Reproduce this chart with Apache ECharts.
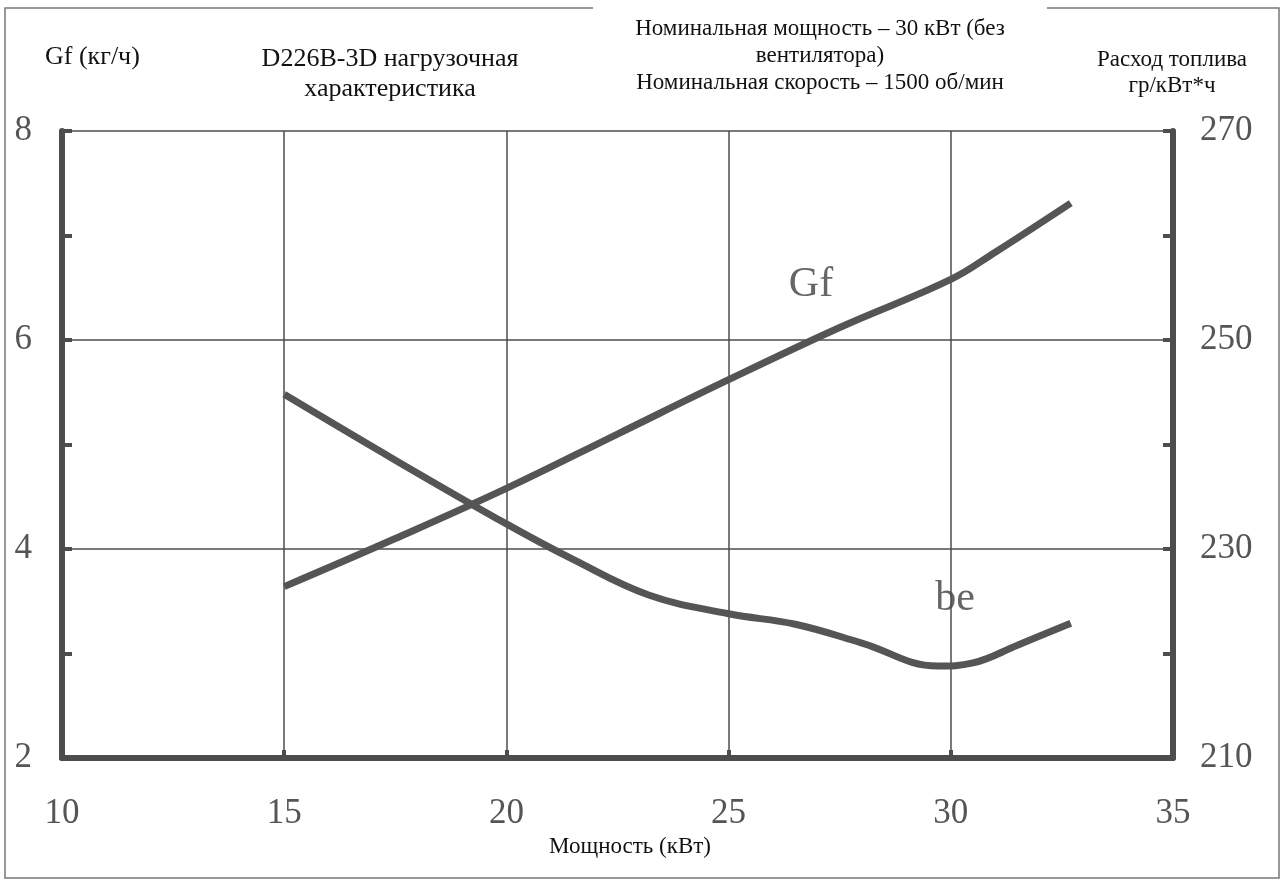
<!DOCTYPE html>
<html>
<head>
<meta charset="utf-8">
<script src="https://cdn.jsdelivr.net/npm/echarts@6/dist/echarts.min.js"></script>
<style>
html, body { margin: 0; padding: 0; background: #fff; }
#chart { width: 1287px; height: 883px; }
</style>
</head>
<body>
<div id="chart"></div>
<script>
// мощность (кВт) и значения кривых
var gfPower = [15, 17.5, 20, 22.5, 25, 27.5, 30, 31, 32.7];
var gfValues = [3.64, 4.1, 4.58, 5.1, 5.62, 6.12, 6.58, 6.84, 7.31];
var bePower = [15, 17.5, 20, 21.5, 23.2, 25, 26.5, 28, 29.7, 30.5, 31.5, 32.7];
var beValues = [244.8, 238.5, 232.4, 229, 225.6, 223.8, 222.8, 221, 218.8, 219.1, 220.8, 222.9];

var xTicks = [10, 15, 20, 25, 30, 35];
var leftTicks = [2, 4, 6, 8];
var rightTicks = [210, 230, 250, 270];

var ink = '#4d4d4d';
var serif = '"Liberation Serif", "DejaVu Serif", serif';

function pairs(xs, ys) {
	var out = [];
	for (var i = 0; i < xs.length; i++) {
		out.push([xs[i], ys[i]]);
	}
	return out;
}

var chart = echarts.init(document.getElementById('chart'));

var option = {
	backgroundColor : '#fff',
	animation : false,
	grid : {
		left : 62,
		right : 114,
		top : 131,
		bottom : 125
	},
	xAxis : {
		type : 'value',
		min : xTicks[0],
		max : xTicks[xTicks.length - 1],
		interval : 5,
		axisLine : { lineStyle : { color : ink, width : 6 } },
		axisTick : { inside : true, length : 8, lineStyle : { color : ink, width : 4 } },
		axisLabel : { margin : 38, fontSize : 35, fontFamily : serif, color : '#555' },
		splitLine : { show : true, lineStyle : { color : ink, width : 1.5 } }
	},
	yAxis : [ {
		type : 'value',
		position : 'left',
		min : leftTicks[0],
		max : leftTicks[leftTicks.length - 1],
		interval : 2,
		axisLine : { show : true, lineStyle : { color : ink, width : 6 } },
		axisTick : { show : true, inside : true, length : 10, lineStyle : { color : ink, width : 4 } },
		minorTick : { show : true, splitNumber : 2, length : 10, lineStyle : { color : ink, width : 4 } },
		axisLabel : { margin : 30, fontSize : 35, fontFamily : serif, color : '#555' },
		splitLine : { show : true, lineStyle : { color : ink, width : 1.5 } }
	}, {
		type : 'value',
		position : 'right',
		min : rightTicks[0],
		max : rightTicks[rightTicks.length - 1],
		interval : 20,
		axisLine : { show : true, lineStyle : { color : ink, width : 6 } },
		axisTick : { show : true, inside : true, length : 10, lineStyle : { color : ink, width : 4 } },
		minorTick : { show : true, splitNumber : 2, length : 10, lineStyle : { color : ink, width : 4 } },
		axisLabel : { margin : 27, fontSize : 35, fontFamily : serif, color : '#555' },
		splitLine : { show : false }
	} ],
	series : [ {
		name : 'Gf',
		type : 'line',
		yAxisIndex : 0,
		data : pairs(gfPower, gfValues),
		smooth : 0.4,
		showSymbol : false,
		lineStyle : { color : '#555', width : 7, cap : 'butt' }
	}, {
		name : 'be',
		type : 'line',
		yAxisIndex : 1,
		data : pairs(bePower, beValues),
		smooth : 0.4,
		showSymbol : false,
		lineStyle : { color : '#555', width : 7, cap : 'butt' }
	} ],
	graphic : [
		// рамка
		{ type : 'polyline', shape : { points : [ [593, 8], [5, 8], [5, 878], [1279, 878], [1279, 8], [1047, 8] ] },
			style : { stroke : '#777', lineWidth : 1.5, fill : null } },
		{ type : 'text', x : 45, y : 44, style : { text : 'Gf (кг/ч)', font : '26px ' + serif, fill : '#111' } },
		{ type : 'text', x : 390, y : 44, style : { text : 'D226B-3D нагрузочная\nхарактеристика', font : '26px ' + serif, fill : '#111', align : 'center', lineHeight : 30 } },
		{ type : 'text', x : 820, y : 15, style : { text : 'Номинальная мощность – 30 кВт (без\nвентилятора)\nНоминальная скорость – 1500 об/мин', font : '23px ' + serif, fill : '#111', align : 'center', lineHeight : 27 } },
		{ type : 'text', x : 1172, y : 47, style : { text : 'Расход топлива\nгр/кВт*ч', font : '23px ' + serif, fill : '#111', align : 'center', lineHeight : 26 } },
		{ type : 'text', x : 630, y : 835, style : { text : 'Мощность (кВт)', font : '23px ' + serif, fill : '#111', align : 'center' } },
		{ type : 'text', x : 811, y : 264, style : { text : 'Gf', font : '42px ' + serif, fill : '#666', align : 'center' } },
		{ type : 'text', x : 955, y : 578, style : { text : 'be', font : '42px ' + serif, fill : '#666', align : 'center' } }
	]
};

chart.setOption(option);
</script>
</body>
</html>
